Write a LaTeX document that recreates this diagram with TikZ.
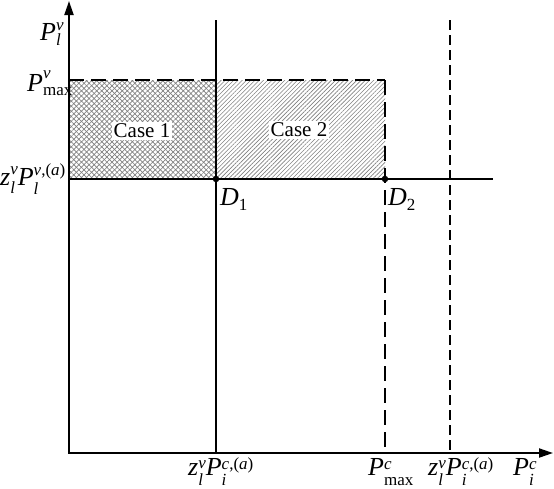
\documentclass[tikz,border=0pt]{standalone}
\usepackage{fontspec}
\setmainfont{Liberation Serif}
\usetikzlibrary{arrows.meta,patterns.meta}
\newcommand{\iv}[1]{\textit{#1}}
\newcommand{\scr}{\fontsize{17}{17}\selectfont}
\newcommand{\sps}[4]{\setbox0=\hbox{\scr #3}\setbox2=\hbox{\scr #4}%
  \ifdim\wd0>\wd2 \dimen0=\wd0 \else \dimen0=\wd2 \fi
  \rlap{\raise#1\box0}\rlap{\lower#2\box2}\kern\dimen0\relax}
\begin{document}
\begin{tikzpicture}[x=1pt,y=-1pt,
  axis/.style={line width=2pt,{Triangle[length=14pt,width=9pt]}-{Triangle[length=14pt,width=9pt]}},
  solidline/.style={line width=2pt},
  dashA/.style={line width=2pt,dash pattern=on 15pt off 7pt},
  dashB/.style={line width=2pt,dash pattern=on 10pt off 5pt},
  dot/.style={circle,fill=black,inner sep=0pt,minimum size=6.5pt},
  lbl/.style={font=\fontsize{26}{30}\selectfont,inner sep=0pt,anchor=base west},
  casebox/.style={font=\fontsize{21}{24}\selectfont,fill=white,inner sep=1.5pt}]
\useasboundingbox (0,0) rectangle (554,488);
% key points
\coordinate (O) at (69,453);
\coordinate (Ytop) at (69,1);
\coordinate (Xend) at (553,453);
\coordinate (Pmax) at (69,80);
\coordinate (Zl) at (69,179);
\coordinate (V1top) at (216,20);
\coordinate (V1bot) at (216,453);
\coordinate (C2top) at (385,80);
\coordinate (C2bot) at (385,453);
\coordinate (V3top) at (450,20);
\coordinate (V3bot) at (450,453);
\coordinate (Hend) at (493,179);
% hatched regions
\fill[pattern={Lines[angle=45,distance=3.6pt,line width=0.7pt]},pattern color=gray] (Pmax) rectangle (216,179);
\fill[pattern={Lines[angle=-45,distance=3.6pt,line width=0.7pt]},pattern color=gray] (Pmax) rectangle (216,179);
\fill[pattern={Lines[angle=45,distance=3pt,line width=0.6pt]},pattern color=gray] (216,80) rectangle (385,179);
\node[casebox] (case1) at (142,131) {Case 1};
\node[casebox] (case2) at (299,130) {Case 2};
% lines
\draw[solidline] (V1top) -- (V1bot);
\draw[solidline] (Zl) -- (Hend);
\draw[dashA] (Pmax) -- (C2top);
\draw[dashA] (C2top) -- (C2bot);
\draw[dashB] (V3top) -- (V3bot);
\draw[axis] (Ytop) |- (Xend);
% dots
\node[dot] (D1) at (216,179) {};
\node[dot] (D2) at (385,179) {};
\node[lbl] (D1l) at (220,205) {\iv{D}\sps{0pt}{5pt}{}{1}};
\node[lbl] (D2l) at (388,205) {\iv{D}\sps{0pt}{5pt}{}{2}};
% axis labels
\node[lbl] (yl) at (40,40) {\iv{P}\sps{10pt}{5pt}{\iv{v}}{\iv{l}}};
\node[lbl] (pmaxl) at (27,91) {\iv{P}\sps{13pt}{4pt}{\iv{v}}{max}};
\node[lbl] (zll) at (0,185) {\iv{z}\sps{11pt}{8pt}{\iv{v}}{\iv{l}}\iv{P}\sps{10pt}{9pt}{\iv{v},(\iv{a})}{\iv{l}}};
\node[lbl] (b1) at (188,475) {\iv{z}\sps{7pt}{10pt}{\iv{v}}{\iv{l}}\iv{P}\sps{6pt}{10pt}{\iv{c},(\iv{a})}{\iv{i}}};
\node[lbl] (b2) at (368,475) {\iv{P}\sps{6pt}{10pt}{\iv{c}}{max}};
\node[lbl] (b3) at (428,475) {\iv{z}\sps{7pt}{10pt}{\iv{v}}{\iv{l}}\iv{P}\sps{6pt}{10pt}{\iv{c},(\iv{a})}{\iv{i}}};
\node[lbl] (b4) at (513,475) {\iv{P}\sps{6pt}{10pt}{\iv{c}}{\iv{i}}};
\end{tikzpicture}
\end{document}
